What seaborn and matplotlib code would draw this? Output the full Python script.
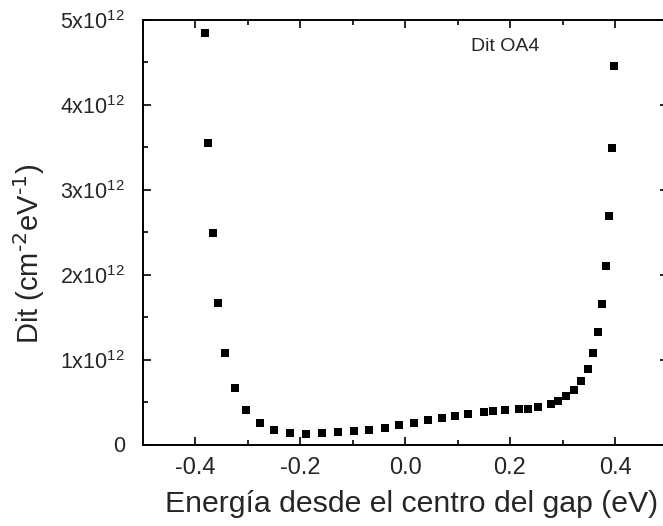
import matplotlib
matplotlib.use("Agg")
import matplotlib.pyplot as plt
from matplotlib.ticker import MultipleLocator, FixedLocator, FixedFormatter
import seaborn as sns
import pandas as pd

# Interface trap density vs. energy from midgap
energia = [-0.381, -0.375, -0.366, -0.356, -0.342, -0.324, -0.302, -0.277, -0.249,
           -0.219, -0.189, -0.158, -0.128, -0.098, -0.069, -0.039, -0.011, 0.017,
           0.043, 0.070, 0.095, 0.120, 0.150, 0.168, 0.190, 0.218, 0.234, 0.254,
           0.278, 0.292, 0.307, 0.322, 0.336, 0.348, 0.359, 0.368, 0.376, 0.383,
           0.389, 0.394, 0.399]
dit_e12 = [4.843, 3.548, 2.497, 1.670, 1.080, 0.669, 0.409, 0.257, 0.171,
           0.139, 0.127, 0.132, 0.144, 0.157, 0.174, 0.198, 0.224, 0.256,
           0.283, 0.310, 0.336, 0.362, 0.383, 0.395, 0.403, 0.418, 0.424, 0.436,
           0.479, 0.510, 0.568, 0.645, 0.748, 0.893, 1.078, 1.329, 1.658, 2.099,
           2.695, 3.492, 4.458]
dit = [v * 1e12 for v in dit_e12]

y_ticks = [0, 1e12, 2e12, 3e12, 4e12, 5e12]
y_tick_labels = ["0", r"1x10$^{12}$", r"2x10$^{12}$", r"3x10$^{12}$",
                 r"4x10$^{12}$", r"5x10$^{12}$"]
x_ticks = [-0.4, -0.2, 0.0, 0.2, 0.4]
x_tick_labels = ["-0.4", "-0.2", "0.0", "0.2", "0.4"]

df = pd.DataFrame({"E": energia, "Dit": dit})

sns.set_theme(style="ticks")
plt.rcParams["font.family"] = ["Liberation Sans", "DejaVu Sans"]
plt.rcParams["mathtext.default"] = "regular"

W, H = 663, 526
fig = plt.figure(figsize=(W / 100, H / 100), dpi=100)
ax = fig.add_axes([142.5 / W, (H - 444.5) / H, 525 / W, 424.5 / H])

sns.scatterplot(data=df, x="E", y="Dit", marker="s", s=34, color="black",
                linewidth=0, ax=ax, legend=False)

ax.set_xlim(-0.5, 0.5)
ax.set_ylim(0, 5e12)

ax.xaxis.set_major_locator(FixedLocator(x_ticks))
ax.xaxis.set_major_formatter(FixedFormatter(x_tick_labels))
ax.xaxis.set_minor_locator(MultipleLocator(0.1))
ax.yaxis.set_major_locator(FixedLocator(y_ticks))
ax.yaxis.set_major_formatter(FixedFormatter(y_tick_labels))
ax.yaxis.set_minor_locator(MultipleLocator(0.5e12))

for sp in ax.spines.values():
    sp.set_visible(True)
    sp.set_linewidth(1.4)
    sp.set_color("black")

ax.tick_params(which="both", direction="in", top=True, right=True,
               color="black", width=1.2)
ax.tick_params(which="major", length=6)
ax.tick_params(axis="x", which="major", labelsize=17, pad=9)
ax.tick_params(axis="y", which="major", labelsize=15.5, pad=12.5)
ax.tick_params(which="minor", length=3.5)

ax.set_xlabel("Energía desde el centro del gap (eV)", fontsize=21.8, labelpad=8)
ax.xaxis.label.set_x(0.513)
ax.set_ylabel(r"Dit (cm$^{\text{-2}}$eV$^{\text{-1}}$)", fontsize=21)
ax.yaxis.set_label_coords(-0.182, 0.45)

ax.text(0.19, 4.685e12, "Dit OA4", fontsize=14, ha="center", va="center")

fig.savefig("out.png", dpi=100)
